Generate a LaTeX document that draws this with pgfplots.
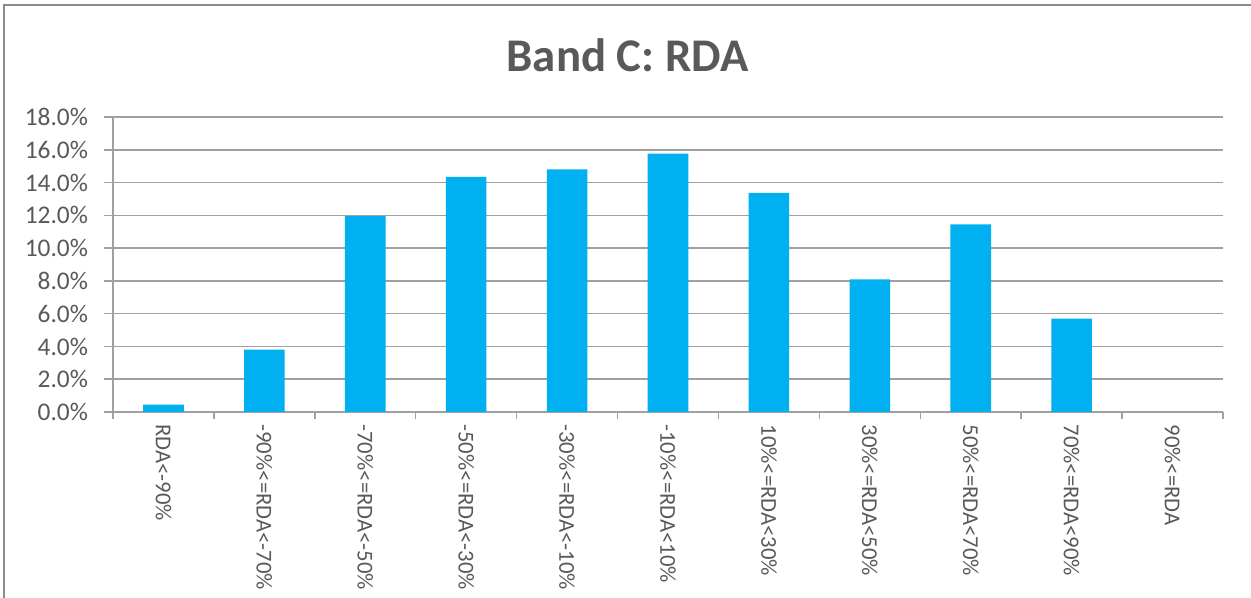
\documentclass[border=0pt]{standalone}
\usepackage{pgfplots}
\pgfplotsset{compat=1.18}
\usepackage{fontspec}
\setmainfont{Carlito}
\definecolor{barblue}{HTML}{00B0F0}
\definecolor{txt}{HTML}{595959}
\definecolor{gridc}{HTML}{A0A0A0}
\definecolor{framec}{HTML}{8C8C8C}
\begin{document}
\begin{tikzpicture}
\useasboundingbox (0,0) rectangle (1251bp,598bp);
\draw[framec, line width=2bp] (4bp,0) -- (4bp,593bp) -- (1251bp,593bp);
\node[font=\bfseries\fontsize{47}{56}\selectfont, text=txt, anchor=base] at (627.5bp,526bp) {Band C: RDA};
\begin{axis}[
  at={(113bp,186bp)}, anchor=south west,
  scale only axis, width=1110bp, height=295bp,
  xmin=-0.5, xmax=10.5, ymin=0, ymax=18,
  axis x line*=bottom, axis y line*=left,
  axis line style={gridc, line width=1.5bp, -},
  ytick={0,2,4,6,8,10,12,14,16,18},
  yticklabels={0.0\%,2.0\%,4.0\%,6.0\%,8.0\%,10.0\%,12.0\%,14.0\%,16.0\%,18.0\%},
  ymajorgrids,
  major grid style={gridc, line width=1.5bp},
  xtick={0,1,2,3,4,5,6,7,8,9,10},
  xticklabels={RDA<-90\%, -90\%<=RDA<-70\%, -70\%<=RDA<-50\%, -50\%<=RDA<-30\%, -30\%<=RDA<-10\%, -10\%<=RDA<10\%, 10\%<=RDA<30\%, 30\%<=RDA<50\%, 50\%<=RDA<70\%, 70\%<=RDA<90\%, 90\%<=RDA},
  major x tick style={draw=none},
  minor xtick={-0.5,0.5,1.5,2.5,3.5,4.5,5.5,6.5,7.5,8.5,9.5,10.5},
  tick align=outside,
  major tick length=9bp, minor tick length=7bp,
  tick style={gridc, line width=1.5bp},
  xticklabel style={rotate=-90, anchor=west, font=\fontsize{22.8}{27}\selectfont, text=txt},
  yticklabel style={font=\fontsize{25.5}{30}\selectfont, text=txt, xshift=-12.5bp},
]
\addplot[ybar, bar width=40.6bp, fill=barblue, draw=none] coordinates {
(0,0.45) (1,3.80) (2,11.95) (3,14.34) (4,14.80) (5,15.77) (6,13.37) (7,8.09) (8,11.45) (9,5.70) (10,0)
};
\end{axis}
\end{tikzpicture}
\end{document}
